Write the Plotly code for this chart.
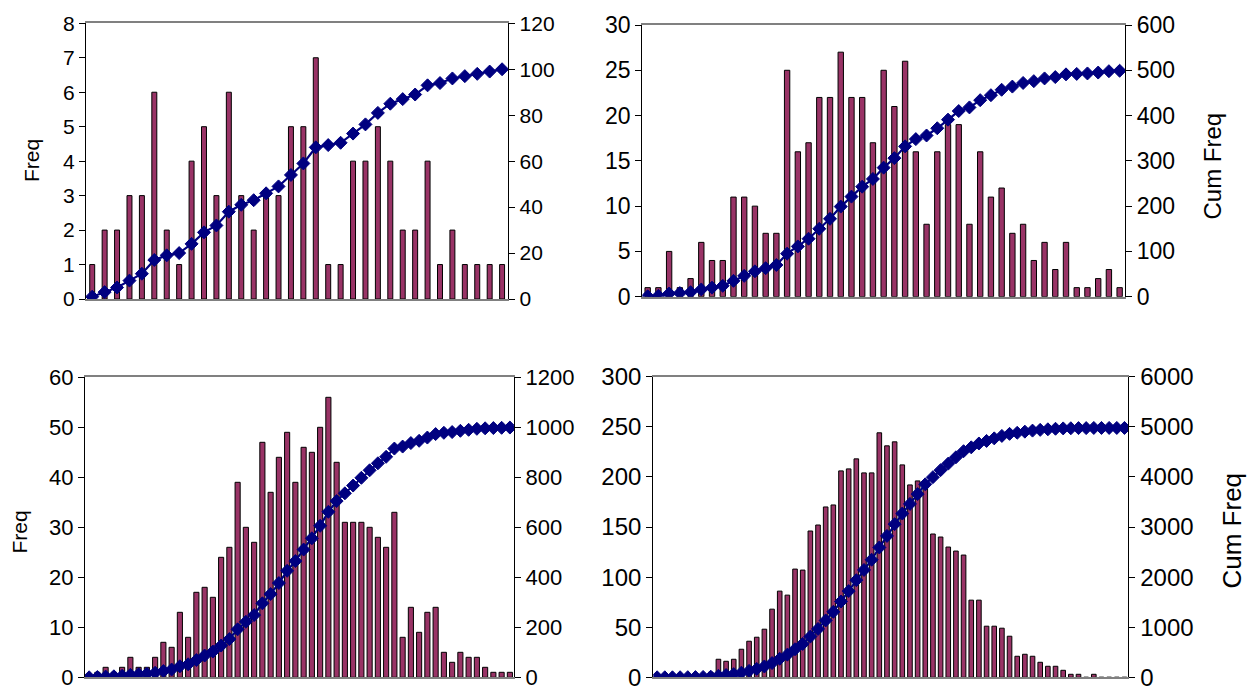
import plotly.graph_objects as go
import numpy as np

# ---------------- data ----------------
p1_freq = [1, 2, 2, 3, 3, 6, 2, 1, 4, 5, 3, 6, 3, 2, 3, 3, 5, 5, 7,
           1, 1, 4, 4, 5, 4, 2, 2, 4, 1, 2, 1, 1, 1, 1]
p2_freq = [1, 1, 5, 1, 2, 6, 4, 4, 11, 11, 10, 7, 7, 25, 16, 17, 22, 22, 27, 22,
           22, 17, 25, 21, 26, 16, 8, 16, 19, 19, 8, 16, 11, 12, 7, 8, 4, 6, 3, 6,
           1, 1, 2, 3, 1]
p3_freq = [0, 1, 2, 1, 2, 4, 2, 2, 4, 7, 6, 13, 8, 17, 18, 16, 24, 26, 39, 30,
           27, 47, 37, 44, 49, 39, 46, 45, 50, 56, 43, 31, 31, 31, 30, 28, 26, 33, 8, 14,
           9, 13, 14, 5, 3, 5, 4, 4, 2, 1, 1, 1]
p4_freq = [0, 0, 0, 1, 1, 2, 3, 5, 18, 16, 18, 28, 36, 40, 48, 68, 86, 82, 108, 107,
           146, 152, 170, 172, 206, 208, 218, 204, 204, 244, 231, 235, 212, 192, 196, 195, 143, 140, 130, 126,
           122, 77, 77, 51, 51, 49, 41, 21, 23, 21, 15, 11, 11, 7, 3, 3, 0, 3, 0, 0,
           0, 0]

left_max = [8, 30, 60, 300]
left_dtick = [1, 5, 10, 50]
right_max = [120, 600, 1200, 6000]
right_dtick = [20, 100, 200, 1000]

W, H = 1255, 694
# plot-area boxes in pixels: (left, right, top, bottom)
boxes = [(86, 508.3, 23.3, 299.0),
         (642.3, 1125.0, 25.0, 296.7),
         (85.0, 514.0, 377.3, 677.3),
         (653.3, 1128.3, 376.7, 677.3)]
bar_width = [0.4, 0.5, 0.62, 0.6]
tick_font = [21, 23, 22, 24]

BAR = "#993366"
NAVY = "#000080"
FONT = "Arial, Liberation Sans, sans-serif"

fig = go.Figure()
layout = dict(width=W, height=H, margin=dict(l=0, r=0, t=0, b=0, pad=0, autoexpand=False),
              paper_bgcolor="white", plot_bgcolor="white", showlegend=False,
              barmode="overlay")

freqs = [p1_freq, p2_freq, p3_freq, p4_freq]
for k, fr in enumerate(freqs):
    n = len(fr)
    cats = list(range(n))
    cum = np.cumsum(fr)
    xa = "x" if k == 0 else f"x{k+1}"
    yl = "y" if k == 0 else f"y{2*k+1}"
    yr = f"y{2*k+2}"
    fig.add_trace(go.Bar(x=cats, y=fr, xaxis=xa, yaxis=yl, width=bar_width[k],
                         marker=dict(color=BAR, line=dict(color="black", width=1))))
    fig.add_trace(go.Scatter(x=cats, y=cum, xaxis=xa, yaxis=yr, mode="lines+markers",
                             line=dict(color=NAVY, width=2.2),
                             marker=dict(symbol="diamond", size=10, color=NAVY,
                                         line=dict(color=NAVY, width=1))))
    l, r, t, b = boxes[k]
    xdom = [l / W, r / W]
    ydom = [1 - b / H, 1 - t / H]
    xkey = "xaxis" if k == 0 else f"xaxis{k+1}"
    ylkey = "yaxis" if k == 0 else f"yaxis{2*k+1}"
    yrkey = f"yaxis{2*k+2}"
    layout[xkey] = dict(domain=xdom, anchor=yl, range=[-0.5, n - 0.5],
                        showticklabels=False, ticks="", showgrid=False, zeroline=False,
                        showline=True, mirror=True, linecolor="#808080", linewidth=1.5,
                        fixedrange=True, automargin=False)
    tf = dict(family=FONT, size=tick_font[k], color="black")
    layout[ylkey] = dict(domain=ydom, anchor=xa, range=[0, left_max[k]], dtick=left_dtick[k],
                         tick0=0, ticks="outside", ticklen=6, tickwidth=1, tickcolor="black",
                         showline=True, linecolor="black", linewidth=1.2, showgrid=False,
                         zeroline=False, tickfont=tf, side="left", automargin=False)
    layout[yrkey] = dict(overlaying=yl, anchor=xa, range=[0, right_max[k]], dtick=right_dtick[k],
                         tick0=0, ticks="outside", ticklen=6, tickwidth=1, tickcolor="black",
                         showline=True, linecolor="black", linewidth=1.2, showgrid=False,
                         zeroline=False, tickfont=tf, side="right", automargin=False)

def ann(text, xpx, ypx, size):
    return dict(text=text, x=xpx / W, y=1 - ypx / H, xref="paper", yref="paper",
                showarrow=False, textangle=-90, xanchor="center", yanchor="middle",
                font=dict(family=FONT, size=size, color="black"))

layout["annotations"] = [
    ann("Freq", 32, 161, 21),
    ann("Cum Freq", 1212.5, 166, 24),
    ann("Freq", 18.5, 532, 21),
    ann("Cum Freq", 1231.5, 531, 26),
]

fig.update_layout(**layout)
fig.write_html("out.html", config={"displayModeBar": False},
               post_script="document.body.style.margin='0';")
